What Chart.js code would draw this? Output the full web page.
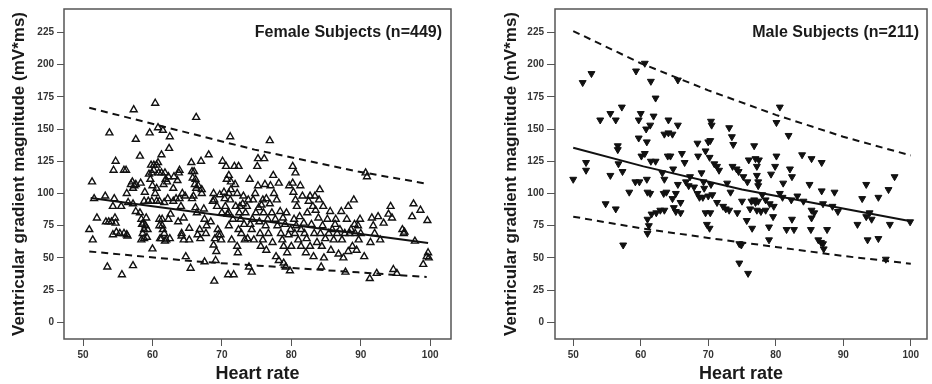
<!DOCTYPE html>
<html>
<head>
<meta charset="utf-8">
<script src="https://cdn.jsdelivr.net/npm/chart.js@4.4.1/dist/chart.umd.min.js"></script>
<style>
html, body { margin: 0; padding: 0; background: #fff; }
.wrap { display: flex; width: 932px; height: 384px; }
canvas { display: block; }
</style>
</head>
<body>
<div class="wrap">
  <canvas id="female" width="466" height="384"></canvas>
  <canvas id="male" width="466" height="384"></canvas>
</div>
<script>
const rateTicks = [50, 60, 70, 80, 90, 100]
const gradTicks = [0, 25, 50, 75, 100, 125, 150, 175, 200, 225]

// female subjects, heart rate vs ventricular gradient
const femaleRate = [
  50.9,51.3,51.4,51.6,52,53.3,53.5,53.2,53.8,53.7,54.1,54.3,54.5,54.7,54.4,54.6,54.7,54.3,54.8,
  55.5,55.6,55.9,56.2,55.3,55.9,56.3,56.4,56.3,56.5,56.9,57.1,57.3,57.4,57.2,57.6,57.6,57.2,57.6,57.2,
  58.2,58.3,58.2,58.4,58.5,58.7,58.9,58.8,58.6,58.4,58.8,58.8,59,59.1,59.3,59.2,59.4,59.6,59.5,59.8,
  59.7,59.9,60,59.9,60,
  60.4,60.2,60.2,60.6,60.4,60.6,60.8,61,60.8,60.9,60.6,61,61,61.1,61.3,61.3,61.3,61.5,61.4,61.5,
  61.7,61.7,61.8,61.9,61.6,61.4,61.8,62,62.1,62.3,62.5,62.4,62.2,62.3,62.5,62.6,63,63,63.1,63.4,
  63.6,63.8,63.9,63.7,63.9,64.1,64.2,64.2,64.3,64.5,64.5,64.7,64.8,
  65.3,65.3,65.5,65.6,65.7,65.8,65.7,65.9,66,66.1,66.2,66.3,66.3,66.4,66.2,66.5,66.6,66.8,66.9,67,
  67.1,67.1,67.4,67.5,67.7,67.5,67.8,68.1,68.4,68.7,68.8,68.9,68.8,68.9,69,69.1,69.2,69.3,69.4,69.5,
  69.7,69.8,69.9,70,
  70.1,70.3,70.4,70.6,70.5,70.7,70.8,70.9,71,71,71,71,71.2,71.2,71.3,71.3,71.4,71.6,71.7,71.8,
  71.9,72,72.2,72.2,72.3,72.4,72.5,72.4,72.6,72.7,72.8,73,73.1,73.2,73.3,73.4,73.6,73.7,73.8,73.9,
  74,74.1,74.3,74.3,74.4,74.5,74.6,74.8,74.9,
  75.1,75.2,75.2,75.3,75.4,75.5,75.6,75.7,75.9,75.9,76,76.1,76.2,76.3,76.4,76.4,76.6,76.7,76.9,76.9,
  77,77.2,77.3,77.4,77.5,77.7,77.8,77.9,78,78.2,78.2,78.4,78.5,78.7,78.8,78.9,78.9,79.1,79.2,79.3,
  79.4,79.6,79.7,79.8,79.9,80,
  80.2,80.2,80.3,80.4,80.5,80.6,80.6,80.7,80.8,81,81.2,81.3,81.4,81.4,81.6,81.8,81.9,82.1,82.2,82.3,
  82.5,82.7,82.7,82.9,83.1,83.2,83.3,83.4,83.5,83.7,83.9,84,84.1,84.2,84.3,84.4,84.5,84.6,84.7,84.9,
  85.2,85.4,85.6,85.7,85.9,86.1,86.3,86.4,86.6,86.8,87,87.2,87.3,87.5,87.7,87.8,88,88.2,88.2,88.4,
  88.6,88.8,89,89.1,89.2,89.4,89.6,89.7,89.9,90,
  90.5,90.7,90.9,91.3,91.4,91.6,91.8,92,92.3,92.5,92.8,93.3,94,94.3,94.5,94.7,95.2,96,96.2,96.3,
  97.4,97.6,97.8,98.6,99,99.5,99.7,99.6,99.8
]
const femaleGrad = [
  72,109,64,96,81,78,43,98,147,78,78,90,96,125,118,81,77,68,70,
  90,37,118,118,69,69,68,67,100,93,107,109,165,106,104,107,142,44,86,92,
  129,108,85,80,76,77,101,94,69,64,65,72,75,81,72,66,94,147,115,122,
  111,116,106,94,57,
  170,122,118,122,100,94,151,94,124,116,104,80,75,65,116,65,130,149,80,72,
  69,93,116,111,107,75,63,64,109,113,144,135,96,80,65,84,94,104,113,96,
  110,116,118,78,96,90,69,67,100,81,64,98,51,
  73,64,42,124,117,112,96,98,117,107,111,159,104,85,89,68,106,72,65,125,
  103,100,88,80,69,47,75,130,78,94,100,32,60,95,65,48,55,90,72,68,
  99,68,64,85,
  125,101,96,121,90,111,84,37,114,100,85,75,144,95,109,103,64,80,37,121,
  107,90,100,59,54,121,85,72,90,80,69,92,98,76,64,85,90,65,95,43,
  111,76,39,72,80,95,64,100,85,
  121,127,106,89,78,69,59,91,95,64,85,127,107,75,56,96,80,69,141,92,
  106,85,62,114,100,80,51,95,75,108,48,86,69,64,81,46,59,76,43,85,
  54,68,106,40,72,59,
  121,108,101,80,69,116,95,75,90,64,82,106,72,59,98,77,69,54,65,85,
  94,98,59,76,90,51,69,98,87,62,81,95,103,69,43,59,75,90,50,65,
  80,69,86,56,72,64,76,80,69,53,72,86,64,50,69,39,80,90,55,69,
  72,59,95,76,69,56,75,64,80,69,
  51,116,113,34,62,81,75,69,38,82,64,77,84,90,81,41,38,72,69,70,
  82,92,63,87,45,51,54,79,50
]
const femaleFitRate = [51.1, 99.7]
const femaleFitGrad = [96.5, 61.6]
const femaleUpperRate = [50.9, 62.2, 74.7, 89.6, 99.5]
const femaleUpperGrad = [166.5, 151, 134, 117, 107.6]
const femaleLowerRate = [50.9, 66.1, 75.2, 89.6, 99.5]
const femaleLowerGrad = [55, 47.3, 44, 38.8, 35.2]

// male subjects
const maleRate = [
  50,51.4,52.7,51.9,51.9,54,55.5,56.3,54.8,55.5,56.3,56.6,56.6,57.2,56.7,57.3,57.4,58.3,59.3,59.7,
  60,59.7,59.2,59.8,60.1,60.6,60.9,60.8,61.4,61.5,62.2,61.9,60.9,60.6,61.5,62.2,61,61.4,61,61.2,
  61,61.6,62.3,62.9,63.2,63.5,63.4,63.5,63.8,64.1,63.5,64.1,64.7,64.4,64,65.5,65.5,64.7,64.8,65.2,
  64.9,65.2,65.5,65.9,65.9,66.1,66.5,66.7,67.1,67.3,67.9,68.4,68.5,68.4,68.7,69,69.3,69.4,69.6,69.2,
  70,70.4,70.5,70.3,70.2,70.4,70,70.6,70.3,69.6,69.8,70.2,70.9,71.3,71.6,71.3,72.2,72.6,72.8,73.1,
  73.3,73.1,73.5,73.7,73.6,74.2,74.5,74.3,74.6,74.9,74.6,75.9,75,75.2,75.8,75.7,76.2,76.5,76.4,76,
  76.8,77,77.2,77.5,77.2,77.4,77.4,76.8,77,77.4,77.2,77.8,78,78.5,78.5,79,79,79.1,79.7,79.6,
  79.3,79.9,80.1,80.1,80.6,80.6,81,81.1,81.6,81.9,82.1,82.4,82.3,82.4,82.7,83.2,83.9,84.1,85,85.3,
  85.3,85.2,85.3,85.7,86.8,86.8,87,86.3,86.7,87.1,87,87.6,88.7,88.4,89.2,92.1,92.8,93.4,93.4,93.6,
  93.9,94.2,95.2,95.2,96.3,96.7,96.9,97.6,99.9
]
const maleGrad = [
  111,186,193,124,118,157,162,157,92,114,88,137,134,167,123,117,60,101,195,157,
  162,143,109,109,129,201,140,150,153,187,174,160,111,131,125,125,101,100,80,75,
  69,84,85,87,116,111,100,87,101,157,146,147,146,129,129,153,188,96,119,100,
  89,86,107,93,85,131,124,109,106,113,105,139,129,100,97,116,109,104,133,97,
  140,156,153,141,128,107,98,99,85,85,76,73,123,121,118,93,90,88,108,87,
  101,151,144,138,121,119,117,85,61,60,46,38,94,113,109,79,88,73,94,126,
  137,127,121,126,114,109,106,95,93,94,87,86,99,95,87,74,64,92,90,82,
  115,121,129,155,167,100,97,108,72,145,119,113,95,80,72,98,130,94,107,127,
  87,72,81,85,124,102,92,64,62,57,61,72,101,90,86,76,96,107,82,64,
  85,80,97,65,49,103,76,113,78
]
const maleFitRate = [50, 60.4, 75, 100]
const maleFitGrad = [135.5, 121, 103, 78.5]
const maleUpperRate = [50, 60, 70, 80, 90, 100]
const maleUpperGrad = [226, 201, 180, 161, 144, 129.5]
const maleLowerRate = [50, 60, 70, 80, 90, 100]
const maleLowerGrad = [82, 73, 65.5, 58.5, 51.5, 45.5]

Chart.defaults.font.family = "'Liberation Sans', Arial, sans-serif"
Chart.defaults.color = "#222"

const pairs = (xs, ys) => xs.map((x, i) => ({ x: x, y: ys[i] }))

const framePlugin = {
  id: "frame",
  afterDraw(chart, args, opts) {
    const { ctx, chartArea: a } = chart
    ctx.save()
    ctx.strokeStyle = "#555"
    ctx.lineWidth = 1.5
    ctx.strokeRect(a.left, a.top, a.right - a.left, a.bottom - a.top)
    ctx.fillStyle = "#1a1a1a"
    ctx.font = "bold 16px 'Liberation Sans', Arial, sans-serif"
    ctx.textAlign = "right"
    ctx.textBaseline = "middle"
    ctx.fillText(opts.text, a.right - opts.inset, a.top + 24)
    ctx.restore()
  }
}

function lineSet(xs, ys, dash) {
  return {
    data: pairs(xs, ys),
    showLine: true,
    borderColor: "#111",
    borderWidth: 2,
    borderDash: dash,
    pointRadius: 0,
    fill: false
  }
}

function buildChart(el, points, fit, upper, lower, o) {
  return new Chart(el, {
    type: "scatter",
    data: {
      datasets: [
        lineSet(fit[0], fit[1], []),
        lineSet(upper[0], upper[1], [7, 5]),
        lineSet(lower[0], lower[1], [7, 5]),
        points
      ]
    },
    options: {
      responsive: false,
      animation: false,
      devicePixelRatio: 1,
      layout: { padding: { left: 0, right: o.padRight, top: 9, bottom: 0 } },
      plugins: {
        legend: { display: false },
        tooltip: { enabled: false },
        frame: { text: o.label, inset: o.inset }
      },
      scales: {
        x: {
          type: "linear",
          min: o.xMin,
          max: o.xMax,
          afterBuildTicks: s => { s.ticks = rateTicks.map(v => ({ value: v })) },
          afterFit: s => { s.height = 45 },
          ticks: { font: { size: 10, weight: "bold" }, color: "#333", padding: 3, maxRotation: 0, callback: v => v },
          grid: { drawOnChartArea: false, tickLength: 7, color: "#555" },
          border: { display: false },
          title: {
            display: true, text: "Heart rate", color: "#1a1a1a",
            font: { size: 18, weight: "bold", lineHeight: 1 },
            padding: { top: 0, bottom: 1 }
          }
        },
        y: {
          type: "linear",
          min: -12.9,
          max: 243.1,
          afterBuildTicks: s => { s.ticks = gradTicks.map(v => ({ value: v })) },
          afterFit: s => { s.width = o.yWidth },
          ticks: { font: { size: 10, weight: "bold" }, color: "#333", padding: 3, callback: v => v },
          grid: { drawOnChartArea: false, tickLength: o.tick, color: "#555" },
          border: { display: false },
          title: {
            display: true, text: "Ventricular gradient magnitude (mV*ms)", color: "#1a1a1a",
            font: { size: 17, weight: "bold", lineHeight: 1 },
            padding: { top: o.titlePad, bottom: 0 }
          }
        }
      }
    },
    plugins: [framePlugin]
  })
}

buildChart(document.getElementById("female"),
  {
    data: pairs(femaleRate, femaleGrad),
    pointStyle: "triangle",
    pointRadius: 4,
    pointBorderWidth: 1.4,
    pointBorderColor: "#111",
    pointBackgroundColor: "rgba(255,255,255,0)"
  },
  [femaleFitRate, femaleFitGrad], [femaleUpperRate, femaleUpperGrad], [femaleLowerRate, femaleLowerGrad],
  { label: "Female Subjects (n=449)", inset: 9, padRight: 15, xMin: 47.26, xMax: 103, yWidth: 64, tick: 7, titlePad: 10.5 })

buildChart(document.getElementById("male"),
  {
    data: pairs(maleRate, maleGrad),
    pointStyle: "triangle",
    rotation: 180,
    pointRadius: 4,
    pointBorderWidth: 1,
    pointBorderColor: "#111",
    pointBackgroundColor: "#111"
  },
  [maleFitRate, maleFitGrad], [maleUpperRate, maleUpperGrad], [maleLowerRate, maleLowerGrad],
  { label: "Male Subjects (n=211)", inset: 8, padRight: 0, xMin: 47.3, xMax: 102.4, yWidth: 89, tick: 8, titlePad: 36.5 })
</script>
</body>
</html>
